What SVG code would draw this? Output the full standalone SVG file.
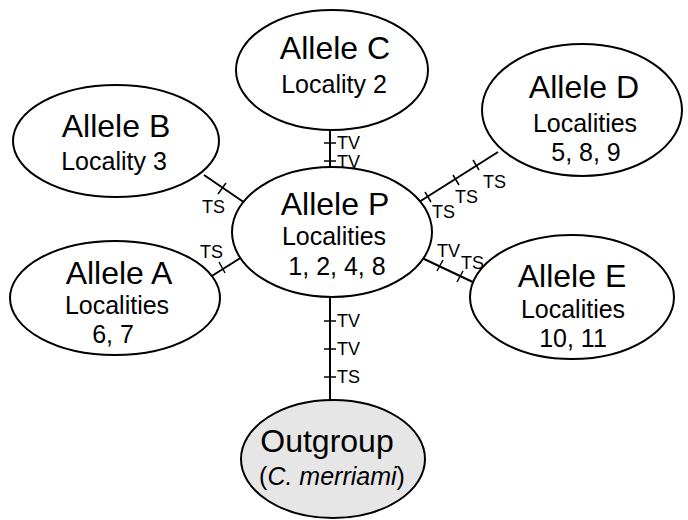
<svg xmlns="http://www.w3.org/2000/svg" width="688" height="520" viewBox="0 0 688 520">
<style>
.n{fill:#fff;stroke:#000;stroke-width:2}
.og{fill:#e6e6e6;stroke:#000;stroke-width:2}
.t{font-family:"Liberation Sans",Arial,sans-serif;font-size:32px;text-anchor:middle;fill:#000}
.s{font-family:"Liberation Sans",Arial,sans-serif;font-size:25px;text-anchor:middle;fill:#000}
.l{font-family:"Liberation Sans",Arial,sans-serif;font-size:18px;fill:#000}
.c{stroke:#000;stroke-width:2;fill:none}
.k{stroke:#000;stroke-width:1.5;fill:none}
</style>
<rect width="688" height="520" fill="#fff"/>
<g id="connectors">
<line class="c" x1="330" y1="130" x2="330" y2="168"/>
<line class="k" x1="324" y1="143" x2="336" y2="143"/>
<line class="k" x1="324" y1="161" x2="336" y2="161"/>
<text class="l" x="337" y="149">TV</text>
<text class="l" x="337" y="168">TV</text>
<line class="c" x1="204" y1="175" x2="245" y2="203"/>
<line class="k" x1="218" y1="194" x2="226" y2="183"/>
<text class="l" x="202" y="213">TS</text>
<line class="c" x1="207" y1="279" x2="242" y2="257"/>
<line class="k" x1="219" y1="262" x2="225" y2="273"/>
<text class="l" x="200" y="258">TS</text>
<line class="c" x1="419" y1="202" x2="498" y2="152"/>
<line class="k" x1="425" y1="192" x2="431" y2="202"/>
<line class="k" x1="453" y1="175" x2="459" y2="185"/>
<line class="k" x1="473" y1="160" x2="479" y2="170"/>
<text class="l" x="432" y="218">TS</text>
<text class="l" x="455" y="203">TS</text>
<text class="l" x="483" y="188">TS</text>
<line class="c" x1="422" y1="258" x2="477" y2="284"/>
<line class="k" x1="443" y1="260" x2="437" y2="271"/>
<line class="k" x1="463" y1="271" x2="457" y2="282"/>
<text class="l" x="437" y="257">TV</text>
<text class="l" x="461" y="269">TS</text>
<line class="c" x1="330" y1="297" x2="330" y2="400"/>
<line class="k" x1="324" y1="321" x2="336" y2="321"/>
<line class="k" x1="324" y1="349" x2="336" y2="349"/>
<line class="k" x1="324" y1="377" x2="336" y2="377"/>
<text class="l" x="337" y="327">TV</text>
<text class="l" x="337" y="355">TV</text>
<text class="l" x="337" y="383">TS</text>
</g>
<g id="alleleC">
<ellipse class="n" cx="332" cy="70" rx="96" ry="60"/>
<text class="t" x="335" y="59">Allele C</text>
<text class="s" x="334" y="93">Locality 2</text>
</g>
<g id="alleleB">
<ellipse class="n" cx="116" cy="141" rx="103" ry="56"/>
<text class="t" x="116" y="137">Allele B</text>
<text class="s" x="114" y="170">Locality 3</text>
</g>
<g id="alleleD">
<ellipse class="n" cx="582" cy="110" rx="100" ry="66"/>
<text class="t" x="584" y="98">Allele D</text>
<text class="s" x="585" y="132">Localities</text>
<text class="s" x="586" y="161">5, 8, 9</text>
</g>
<g id="alleleP">
<ellipse class="n" cx="332" cy="232" rx="100" ry="65"/>
<text class="t" x="335" y="215">Allele P</text>
<text class="s" x="334" y="245">Localities</text>
<text class="s" x="337" y="275">1, 2, 4, 8</text>
</g>
<g id="alleleA">
<ellipse class="n" cx="115" cy="298" rx="105" ry="57"/>
<text class="t" x="119" y="284">Allele A</text>
<text class="s" x="117" y="314">Localities</text>
<text class="s" x="113" y="343">6, 7</text>
</g>
<g id="alleleE">
<ellipse class="n" cx="572" cy="297" rx="102" ry="62"/>
<text class="t" x="572" y="287">Allele E</text>
<text class="s" x="573" y="318">Localities</text>
<text class="s" x="573" y="347">10, 11</text>
</g>
<g id="outgroup">
<ellipse class="og" cx="333" cy="459" rx="92" ry="59"/>
<text class="t" x="327" y="452">Outgroup</text>
<text class="s" x="332" y="485">(<tspan font-style="italic">C. merriami</tspan>)</text>
</g>
</svg>
